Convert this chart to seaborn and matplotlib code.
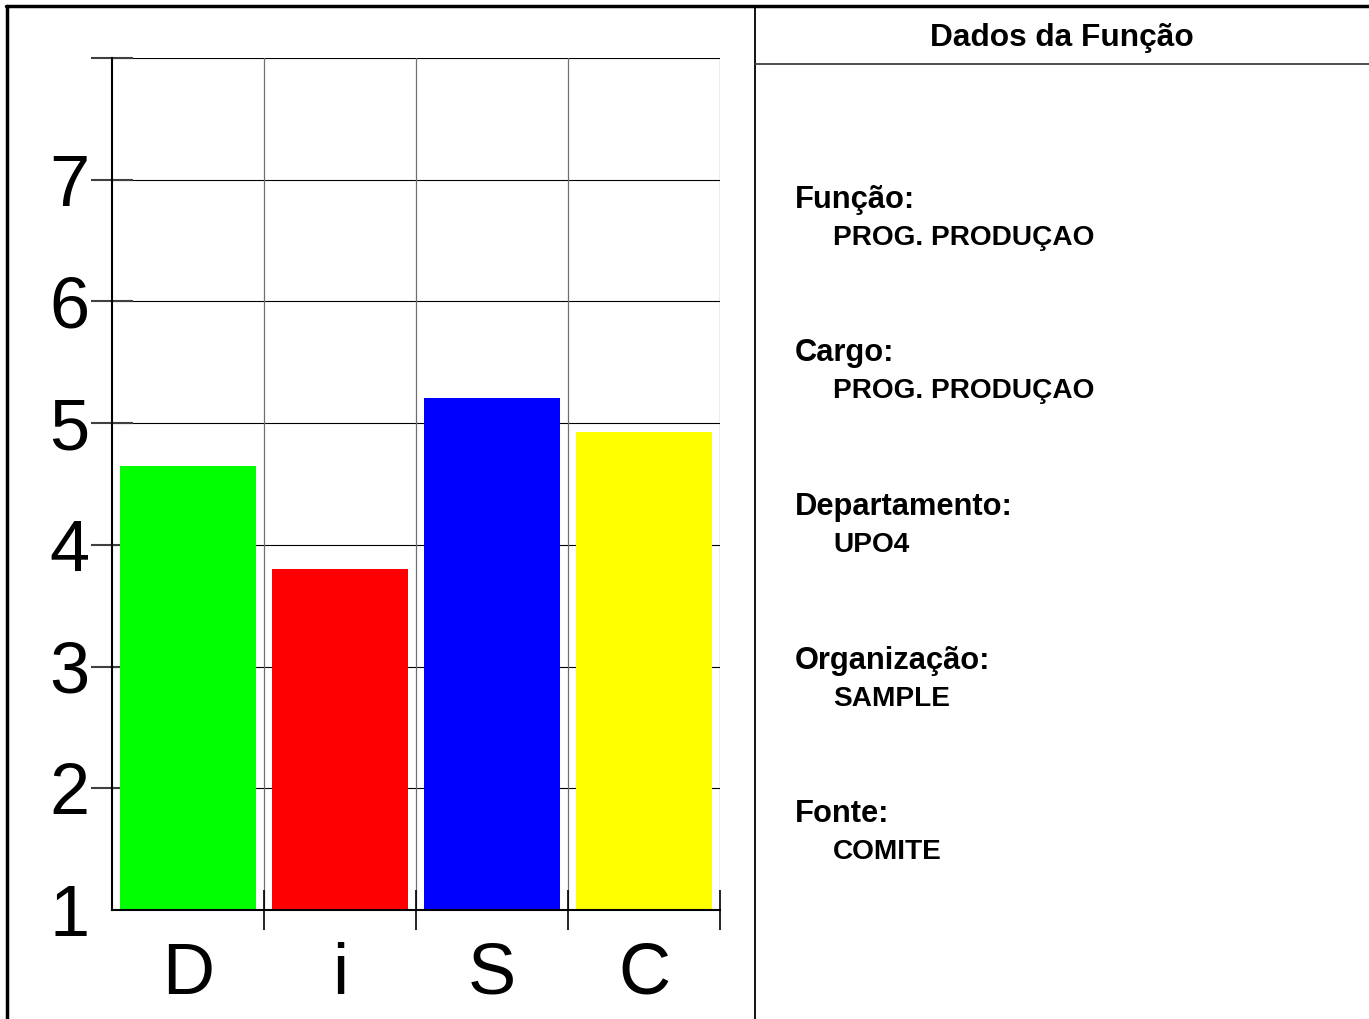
import matplotlib
matplotlib.use("Agg")
import matplotlib.pyplot as plt
import seaborn as sns
from matplotlib.lines import Line2D

categories = ["D", "i", "S", "C"]
scores = [4.65, 3.80, 5.21, 4.93]
bar_colors = ["#00ff00", "#ff0000", "#0000ff", "#ffff00"]
y_ticks = [1, 2, 3, 4, 5, 6, 7, 8]
y_tick_labels = ["1", "2", "3", "4", "5", "6", "7", ""]

panel_title = "Dados da Função"
field_labels = ["Função:", "Cargo:", "Departamento:", "Organização:", "Fonte:"]
field_values = ["PROG. PRODUÇAO", "PROG. PRODUÇAO", "UPO4", "SAMPLE", "COMITE"]

W, H = 1369, 1019
sns.set_style("white")
plt.rcParams["font.family"] = ["Liberation Sans", "DejaVu Sans"]
plt.rcParams["text.color"] = "black"
plt.rcParams["xtick.labelcolor"] = "black"
plt.rcParams["ytick.labelcolor"] = "black"

fig = plt.figure(figsize=(W / 100, H / 100), dpi=100)
ax = fig.add_axes([112 / W, 1 - 910 / H, (720 - 112) / W, (910 - 58) / H])

sns.barplot(x=categories, y=scores, hue=categories, palette=bar_colors,
            legend=False, width=0.9, saturation=1, linewidth=0, ax=ax)

ax.set_xlim(-0.5, 3.5)
ax.set_ylim(1, 8)
ax.set_xlabel("")
ax.set_ylabel("")

# y axis
ax.set_yticks(y_ticks)
ax.set_yticklabels(y_tick_labels, fontsize=52, color="black")
ax.tick_params(axis="y", direction="inout", length=30, width=1.5,
               color="#404040", pad=1, left=True)
ax.yaxis.get_major_ticks()[0].tick1line.set_visible(False)

# x axis: labels on bar centres, ticks on category boundaries
ax.set_xticks([0, 1, 2, 3])
ax.set_xticklabels(categories, fontsize=52, color="black")
ax.set_xticks([0.5, 1.5, 2.5, 3.5], minor=True)
ax.tick_params(axis="x", which="major", length=0, pad=23)
ax.tick_params(axis="x", which="minor", direction="inout", length=29,
               width=1.2, color="black", bottom=True)

ax.grid(False)
ax.set_axisbelow(True)
for y in y_ticks[1:]:
    ax.axhline(y, color="black", linewidth=0.8, zorder=0)
for x in [0.5, 1.5, 2.5, 3.5]:
    ax.axvline(x, color="#707070", linewidth=0.9, zorder=0)

for side in ["top", "right"]:
    ax.spines[side].set_visible(False)
for side in ["left", "bottom"]:
    ax.spines[side].set_color("black")
    ax.spines[side].set_linewidth(1.5)


def fx(px):
    return px / W


def fy(py):
    return 1 - py / H


# outer frame and right panel dividers
fig.add_artist(Line2D([fx(6), fx(W)], [fy(6), fy(6)], color="black", linewidth=2.5))
fig.add_artist(Line2D([fx(7), fx(7)], [fy(6), fy(H)], color="black", linewidth=2.5))
fig.add_artist(Line2D([fx(755), fx(755)], [fy(6), fy(H)], color="black", linewidth=1.3))
fig.add_artist(Line2D([fx(755), fx(W)], [fy(64), fy(64)], color="#404040", linewidth=1.3))

fig.text(fx(1062), fy(46), panel_title, fontsize=22.8, fontweight="bold",
         ha="center", va="baseline", color="black")

for i, (lab, val) in enumerate(zip(field_labels, field_values)):
    base = 208 + i * 153.5
    fig.text(fx(795), fy(base), lab, fontsize=22.2, fontweight="bold",
             va="baseline", color="black")
    fig.text(fx(833), fy(base + 37), val, fontsize=20.2, fontweight="bold",
             va="baseline", color="black")

fig.savefig("out.png", dpi=100, facecolor="white")
